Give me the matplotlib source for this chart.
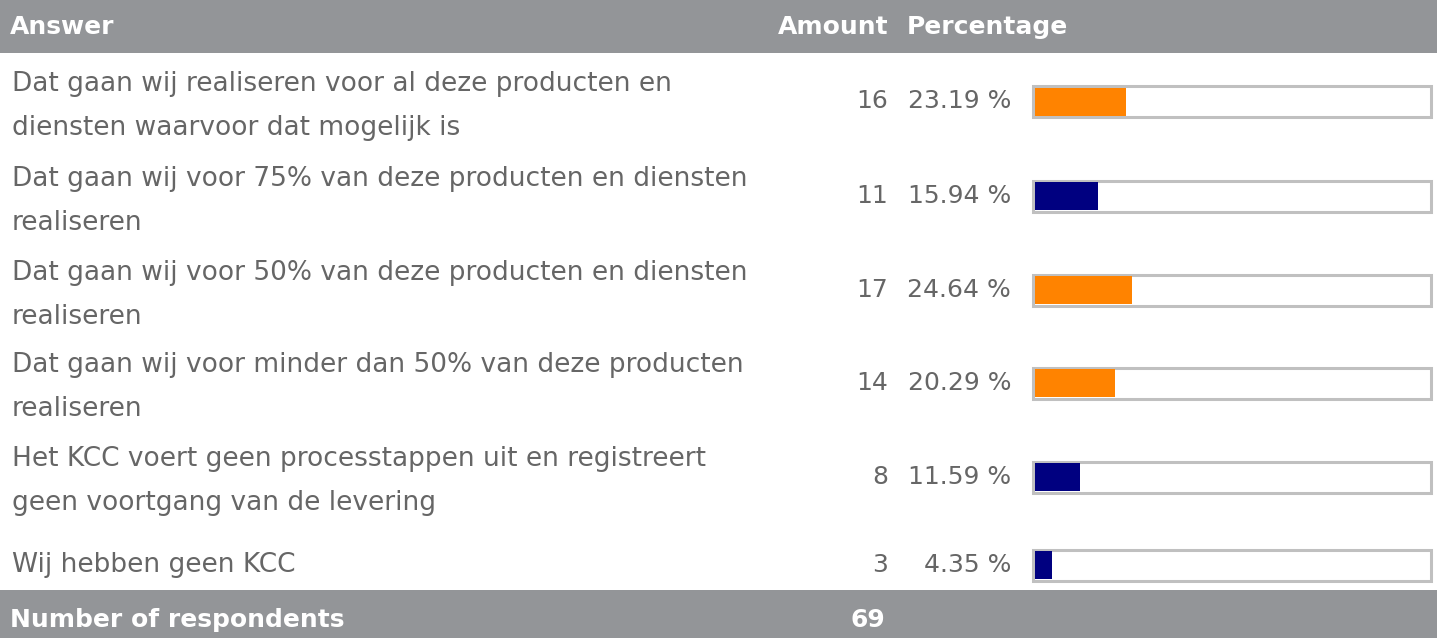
import matplotlib.pyplot as plt
from matplotlib.patches import Rectangle

answers = [
    "Dat gaan wij realiseren voor al deze producten en\ndiensten waarvoor dat mogelijk is",
    "Dat gaan wij voor 75% van deze producten en diensten\nrealiseren",
    "Dat gaan wij voor 50% van deze producten en diensten\nrealiseren",
    "Dat gaan wij voor minder dan 50% van deze producten\nrealiseren",
    "Het KCC voert geen processtappen uit en registreert\ngeen voortgang van de levering",
    "Wij hebben geen KCC",
]
amounts = [16, 11, 17, 14, 8, 3]
percentages = [23.19, 15.94, 24.64, 20.29, 11.59, 4.35]
bar_colors = ["#FF8300", "#000080", "#FF8300", "#FF8300", "#000080", "#000080"]
respondents = 69

W, H = 1437, 638
fig = plt.figure(figsize=(W / 100, H / 100), dpi=100)
ax = fig.add_axes([0, 0, 1, 1])
ax.set_xlim(0, W)
ax.set_ylim(H, 0)
ax.axis("off")

grey = "#939598"
txt = "#666666"
fs = 18
fs_label = 19

# header / footer bands
ax.add_patch(Rectangle((0, 0), W, 53, color=grey, lw=0))
ax.add_patch(Rectangle((0, 590), W, H - 590, color=grey, lw=0))
ax.text(10, 27, "Answer", color="white", fontsize=fs, fontweight="bold", va="center")
ax.text(888, 27, "Amount", color="white", fontsize=fs, fontweight="bold", va="center", ha="right")
ax.text(907, 27, "Percentage", color="white", fontsize=fs, fontweight="bold", va="center")
ax.text(10, 620, "Number of respondents", color="white", fontsize=fs, fontweight="bold", va="center")
ax.text(850, 620, str(respondents), color="white", fontsize=fs, fontweight="bold", va="center")

# rows
centers = [101.5, 196, 290, 383, 477, 565]
box_x, box_w, box_h = 1033, 398, 31

for c, lab, n, p, col in zip(centers, answers, amounts, percentages, bar_colors):
    lines = lab.split("\n")
    if len(lines) == 1:
        ax.text(12, c, lines[0], color=txt, fontsize=fs_label, va="center")
    else:
        ax.text(12, c - 17.5, lines[0], color=txt, fontsize=fs_label, va="center")
        ax.text(12, c + 26.5, lines[1], color=txt, fontsize=fs_label, va="center")
    ax.text(888, c, str(n), color=txt, fontsize=fs, va="center", ha="right")
    ax.text(1011, c, f"{p:.2f} %", color=txt, fontsize=fs, va="center", ha="right")
    ax.add_patch(Rectangle((box_x, c - box_h / 2), box_w, box_h,
                           facecolor="white", edgecolor="#C0C0C0", lw=2.2))
    ax.barh(c, p / 100 * (box_w - 2), height=box_h - 3, left=box_x + 1.5,
            color=col, zorder=3)

fig.savefig("out.png", dpi=100)
